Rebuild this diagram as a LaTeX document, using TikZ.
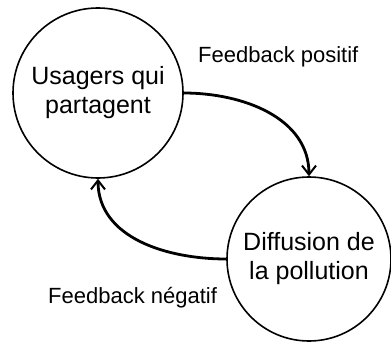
\documentclass[tikz,border=0pt]{standalone}
\usepackage{fontspec}
\setmainfont{Liberation Sans}
\usetikzlibrary{arrows.meta}

\begin{document}
\begin{tikzpicture}
  [x=1pt,y=-1pt,
   etat/.style={circle,draw,line width=1.6pt,inner sep=0pt,align=center,font=\fontsize{25}{29}\selectfont},
   boucle/.style={line width=2.8pt,-{Straight Barb[length=9pt,width=14pt,line width=2pt]}},
   titre/.style={anchor=base west,inner sep=0pt,font=\fontsize{22}{26}\selectfont}]
  \useasboundingbox (0,0) rectangle (391,345);
  \node[etat,minimum size=170pt] (usagers) at (98,93) {Usagers qui\\partagent};
  \node[etat,minimum size=164pt] (diffusion) at (309,259) {Diffusion de\\la pollution};
  \node[titre] (positif) at (198,63) {Feedback positif};
  \node[titre] (negatif) at (48,303) {Feedback négatif};

  \draw[boucle] (usagers.east) to[out=0,in=90] (diffusion.north);
  \draw[boucle] (diffusion.west) to[out=180,in=-90] (usagers.south);
\end{tikzpicture}
\end{document}
